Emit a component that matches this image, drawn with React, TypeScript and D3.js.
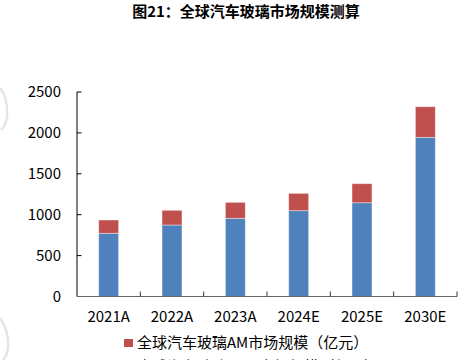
import React from "react";
import * as d3 from "d3";

const categories = ["2021A", "2022A", "2023A", "2024E", "2025E", "2030E"];
const oemValues = [773, 874, 956, 1049, 1146, 1946];
const amValues = [162, 180, 195, 212, 233, 374];
const yTicks = [0, 500, 1000, 1500, 2000, 2500];
const seriesNames = ["全球汽车玻璃AM市场规模（亿元）", "全球汽车玻璃OEM市场规模（亿元）"];
const title = "图21：全球汽车玻璃市场规模测算";

const W = 475;
const H = 360;
const left = 77;
const right = 457;
const top = 92;
const bottom = 296.5;
const font = "'Noto Sans CJK SC', 'Noto Sans', sans-serif";

export default function App() {
  const x = d3.scaleBand<string>().domain(categories).range([left, right]).paddingInner(0.685).paddingOuter(0.3425);
  const xb = d3.scaleBand<string>().domain(categories).range([left, right]);
  const y = d3.scaleLinear().domain([0, 2500]).range([bottom, top]);
  const stacked = d3.stack<any>().keys(["oem", "am"])(
    categories.map((c, i) => ({ cat: c, oem: oemValues[i], am: amValues[i] }))
  );
  const colors = ["#4F81BD", "#C0504D"];
  const bw = x.bandwidth();
  return (
    <svg width={W} height={H} style={{ position: "absolute", left: 0, top: 0, background: "#fff" }}>
      {/* faint watermark remnants */}
      <path d="M0,88 Q8,98 7,116 Q6,126 1,130" fill="none" stroke="#e2e6ea" strokeWidth={2.5} />
      <path d="M0,318 Q9,330 8,348 Q7,356 3,360" fill="none" stroke="#e2e6ea" strokeWidth={2.5} />
      <text x={246} y={17} textAnchor="middle" fontFamily={font} fontWeight="bold" fontSize={15} fill="#000">
        {title}
      </text>
      {stacked.map((s, si) =>
        s.map((d, i) => (
          <rect
            key={si + "-" + i}
            x={x(categories[i])}
            y={y(d[1])}
            width={bw}
            height={y(d[0]) - y(d[1])}
            fill={colors[si]}
            stroke="#ffffff"
            strokeOpacity={0.5}
            strokeWidth={0.8}
          />
        ))
      )}
      {/* y axis */}
      <line x1={left} x2={left} y1={top} y2={bottom} stroke="#000" strokeWidth={1} />
      {yTicks.map((t) => (
        <g key={t}>
          <line x1={left} x2={left + 4.5} y1={y(t)} y2={y(t)} stroke="#000" strokeWidth={1} />
          <text x={61} y={y(t)} dy="0.35em" textAnchor="end" fontFamily={font} fontSize={15} fill="#000">
            {t}
          </text>
        </g>
      ))}
      {/* x axis */}
      <line x1={left} x2={right} y1={bottom} y2={bottom} stroke="#666" strokeWidth={1.2} />
      {categories.map((c, i) => (
        <g key={c}>
          <line
            x1={(xb(c) as number) + xb.bandwidth()}
            x2={(xb(c) as number) + xb.bandwidth()}
            y1={bottom}
            y2={bottom - 5}
            stroke="#333"
            strokeWidth={1}
          />
          <text
            x={(xb(c) as number) + xb.bandwidth() / 2}
            y={317}
            dy="0.35em"
            textAnchor="middle"
            fontFamily={font}
            fontSize={15}
            fill="#000"
          >
            {c}
          </text>
        </g>
      ))}
      {/* legend */}
      {seriesNames.map((n, i) => (
        <g key={n}>
          <rect x={124} y={339 + i * 24} width={9} height={8} fill={colors[1 - i]} />
          <text x={137} y={343 + i * 24} dy="0.35em" fontFamily={font} fontSize={15} fill="#000">
            {n}
          </text>
        </g>
      ))}
    </svg>
  );
}
